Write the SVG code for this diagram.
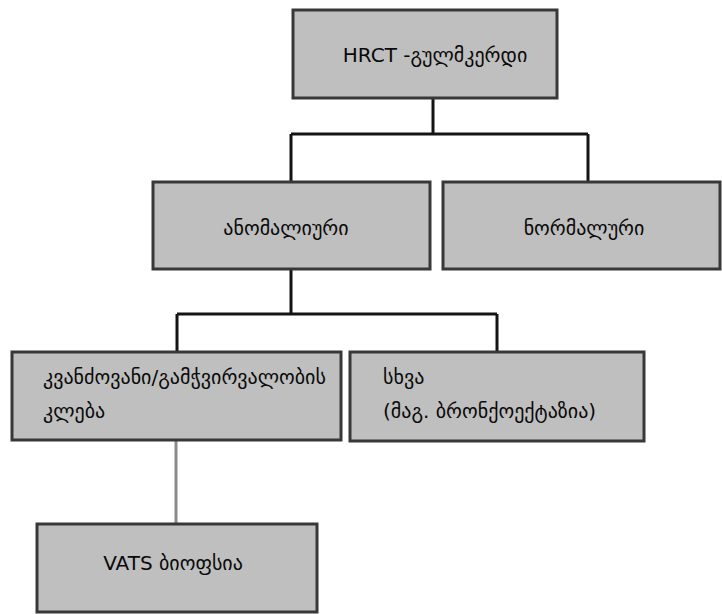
<svg xmlns="http://www.w3.org/2000/svg" width="722" height="614" viewBox="0 0 722 614">
<style>
.box{fill:#bfbfbf;stroke:#383838;stroke-width:3}
.t{font-family:"DejaVu Sans","Noto Sans",sans-serif;font-size:20px;fill:#0a0a0a}
.c{fill:none;stroke:#141414;stroke-width:3}
.g{fill:none;stroke:#8a8a8a;stroke-width:3}
</style>
<rect width="722" height="614" fill="#fff"/>
<g id="connectors">
<path class="c" d="M433 98 V134 M291 134 H588 M291 134 V182 M588 134 V182"/>
<path class="c" d="M291 269 V314 M177 314 H497 M177 314 V352 M497 314 V351"/>
<path class="g" d="M176 441 V524"/>
</g>
<g id="n1"><rect class="box" x="293" y="10" width="264" height="88"/><text class="t" x="435" y="62" text-anchor="middle">HRCT -გულმკერდი</text></g>
<g id="n2"><rect class="box" x="153" y="182" width="277" height="87"/><text class="t" x="286" y="235" text-anchor="middle">ანომალიური</text></g>
<g id="n3"><rect class="box" x="443" y="182" width="277" height="87"/><text class="t" x="584" y="235" text-anchor="middle">ნორმალური</text></g>
<g id="n4"><rect class="box" x="12" y="352" width="329" height="88"/><text class="t" x="43" y="384">კვანძოვანი/გამჭვირვალობის</text><text class="t" x="43" y="418">კლება</text></g>
<g id="n5"><rect class="box" x="350" y="352" width="294" height="89"/><text class="t" x="383" y="384">სხვა</text><text class="t" x="383" y="418">(მაგ. ბრონქოექტაზია)</text></g>
<g id="n6"><rect class="box" x="37" y="524" width="280" height="88"/><text class="t" x="173" y="570" text-anchor="middle">VATS ბიოფსია</text></g>
</svg>
